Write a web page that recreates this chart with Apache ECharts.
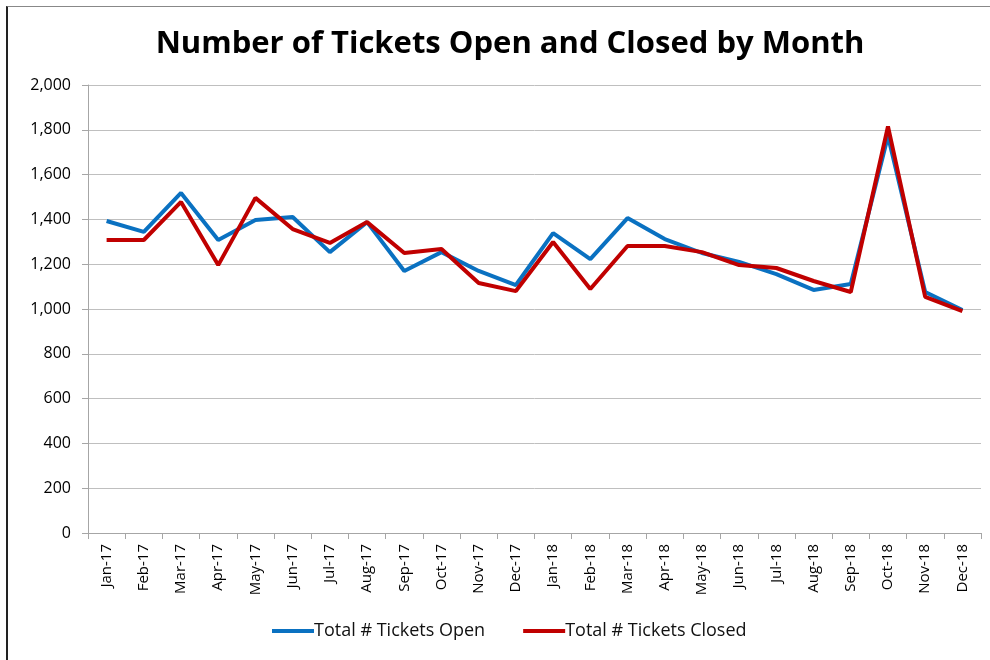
<!DOCTYPE html>
<html>
<head>
<meta charset="utf-8">
<script src="https://cdn.jsdelivr.net/npm/echarts@6/dist/echarts.min.js"></script>
<style>
  html,body{margin:0;padding:0;background:#fff;}
  .frame{position:absolute;left:6px;top:6px;width:990px;height:660px;border-left:2px solid #222;border-top:1px solid #888;}
  #chart{width:990px;height:660px;position:absolute;left:0;top:0;}
</style>
</head>
<body>
<div class="frame"></div>
<div id="chart"></div>
<script>
const months = ['Jan-17','Feb-17','Mar-17','Apr-17','May-17','Jun-17','Jul-17','Aug-17','Sep-17','Oct-17','Nov-17','Dec-17',
  'Jan-18','Feb-18','Mar-18','Apr-18','May-18','Jun-18','Jul-18','Aug-18','Sep-18','Oct-18','Nov-18','Dec-18']
const ticketsOpen = [1393,1344,1518,1308,1397,1411,1254,1388,1170,1254,1170,1107,
  1339,1223,1406,1312,1250,1210,1156,1085,1112,1772,1076,995]
const ticketsClosed = [1308,1308,1478,1196,1496,1357,1295,1388,1250,1268,1116,1080,
  1299,1089,1281,1281,1254,1196,1183,1125,1076,1815,1054,990]

const font = "'Open Sans', 'Noto Sans', sans-serif"

let chart = echarts.init(document.getElementById('chart'))
let option = {
  animation:false,
  title:{
    text:'Number of Tickets Open and Closed by Month',
    top:24,
    left:505,
    textAlign:'center',
    textStyle:{fontFamily:font,fontSize:31,fontWeight:'bold',color:'#000'}
  },
  grid:{left:88,right:9,top:85,bottom:127},
  legend:{
    bottom:15,
    left:267,
    itemWidth:42,
    itemHeight:4,
    itemGap:38,
    icon:'rect',
    textStyle:{fontFamily:font,fontSize:18,color:'#111',padding:[0,0,0,-5]},
    data:['Total # Tickets Open','Total # Tickets Closed']
  },
  xAxis:{
    type:'category',
    data:months,
    boundaryGap:true,
    axisLine:{lineStyle:{color:'#a6a6a6',width:1}},
    axisTick:{show:true,length:6,lineStyle:{color:'#a6a6a6'}},
    axisLabel:{rotate:90,interval:0,fontFamily:font,fontSize:15,color:'#000',margin:11}
  },
  yAxis:{
    type:'value',
    min:0,
    max:2000,
    interval:200,
    axisLine:{show:true,lineStyle:{color:'#a6a6a6',width:1}},
    axisTick:{show:true,length:6,lineStyle:{color:'#a6a6a6'}},
    splitLine:{lineStyle:{color:'#bfbfbf',width:1}},
    axisLabel:{
      fontFamily:font,fontSize:16,color:'#000',margin:17,
      formatter:(v)=>v.toLocaleString('en-US')
    }
  },
  series:[
    {
      name:'Total # Tickets Open',
      type:'line',
      data:ticketsOpen,
      symbol:'none',
      lineStyle:{color:'#0a71c1',width:4},
      itemStyle:{color:'#0a71c1'}
    },
    {
      name:'Total # Tickets Closed',
      type:'line',
      data:ticketsClosed,
      symbol:'none',
      lineStyle:{color:'#c00000',width:4},
      itemStyle:{color:'#c00000'}
    }
  ]
}
chart.setOption(option)
</script>
</body>
</html>
